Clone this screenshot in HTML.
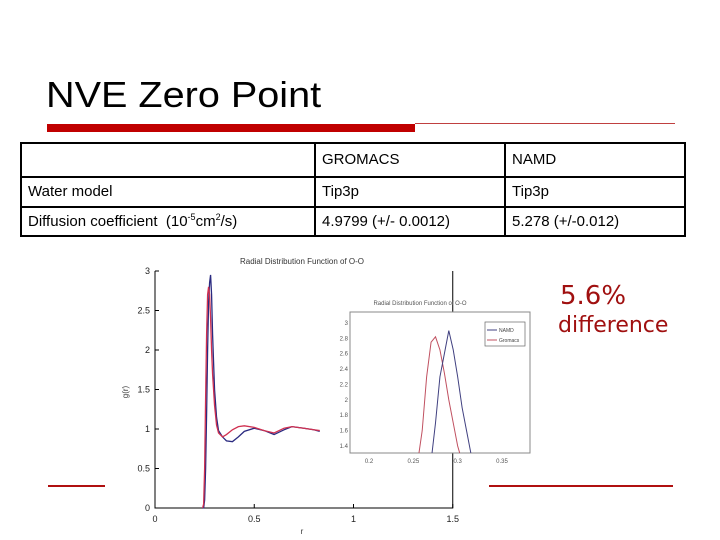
<!DOCTYPE html>
<html><head><meta charset="utf-8"><style>
body{margin:0;background:#fff;}
#slide{position:relative;width:720px;height:540px;overflow:hidden;background:#fff;font-family:"Liberation Sans",sans-serif;}
table{position:absolute;left:20px;top:142px;border-collapse:collapse;font-size:15px;}
td{border:2px solid #000;padding:0 0 0 6px;vertical-align:middle;line-height:16px;}
</style></head><body>
<div id="slide">
<div style="position:absolute;left:46px;top:74px;font-size:36px;transform:scaleX(1.1);transform-origin:left;">NVE Zero Point</div>
<div style="position:absolute;left:47px;top:124px;width:368px;height:8px;background:#c00000;"></div>
<div style="position:absolute;left:415px;top:123px;width:260px;height:1px;background:#c04040;"></div>
<table>
<tr style="height:34px"><td style="width:286px"></td><td style="width:182px">GROMACS</td><td style="width:172px">NAMD</td></tr>
<tr style="height:30px"><td>Water model</td><td>Tip3p</td><td>Tip3p</td></tr>
<tr style="height:29px"><td>Diffusion coefficient&nbsp; (10<sup style="font-size:9px;line-height:0">-5</sup>cm<sup style="font-size:9px;line-height:0">2</sup>/s)</td><td>4.9799 (+/- 0.0012)</td><td>5.278 (+/-0.012)</td></tr>
</table>
<div style="position:absolute;left:560px;top:281px;font-size:26px;color:#a01010;font-family:'DejaVu Sans',sans-serif;">5.6%</div>
<div style="position:absolute;left:558px;top:313px;font-size:22px;color:#a01010;font-family:'DejaVu Sans',sans-serif;">difference</div>
<div style="position:absolute;left:48px;top:485px;width:57px;height:1.5px;background:#b01010;"></div>
<div style="position:absolute;left:489px;top:485px;width:184px;height:1.5px;background:#b01010;"></div>
<svg id="chart" width="720" height="540" style="position:absolute;left:0;top:0" font-family="Liberation Sans, sans-serif"></svg>
</div>
<script>
const mainR=[0.24,0.245,0.25,0.255,0.26,0.265,0.27,0.275,0.28,0.285,0.29,0.3,0.31,0.32,0.34,0.36,0.39,0.42,0.45,0.5,0.55,0.6,0.65,0.69,0.75,0.8,0.83];
const mainRed=[0,0.05,0.5,1.4,2.2,2.7,2.8,2.7,2.4,2.0,1.7,1.3,1.05,0.95,0.9,0.93,0.99,1.03,1.04,1.02,0.98,0.95,1.01,1.03,1.01,0.99,0.98];
const mainBlue=[0,0,0.1,0.5,1.2,2.0,2.6,2.85,2.95,2.7,2.2,1.5,1.15,0.98,0.9,0.85,0.84,0.9,0.97,1.01,0.98,0.93,0.99,1.03,1.01,0.99,0.97];
const xTicks=[0,0.5,1,1.5];
const yTicks=[0,0.5,1,1.5,2,2.5,3];
const insetR=[0.255,0.26,0.265,0.27,0.275,0.28,0.285,0.29,0.295,0.3,0.305];
const insetRed=[1.2,1.6,2.3,2.75,2.82,2.65,2.35,2.0,1.7,1.4,1.2];
const insetRx=[0.27,0.275,0.28,0.285,0.29,0.295,0.3,0.305,0.31,0.315];
const insetBx=[1.2,1.7,2.3,2.6,2.9,2.65,2.3,1.9,1.6,1.3];
const insetXTicks=[0.2,0.25,0.3,0.35];
const insetYTicks=[1.4,1.6,1.8,2,2.2,2.4,2.6,2.8,3];
const NS='http://www.w3.org/2000/svg';
const svg=document.getElementById('chart');
function el(t,a,p){const e=document.createElementNS(NS,t);for(const k in a)e.setAttribute(k,a[k]);(p||svg).appendChild(e);return e;}
const mx=v=>155+v*198.5, my=v=>508-v*79;
let ax=el('path',{d:`M${mx(0)},${my(3)} V${my(0)} H${mx(1.5)} V${my(3)}`,fill:'none',stroke:'#000','stroke-width':1});

xTicks.forEach(t=>{
 const tk=el('line',{x1:mx(t),x2:mx(t),y1:my(0),y2:my(0)-4,stroke:'#000'});
 
 const tx=el('text',{x:mx(t),y:my(0)+14,'font-size':9,'text-anchor':'middle',fill:'#222'});tx.textContent=t;
 
});
yTicks.forEach(t=>{
 const tk=el('line',{x1:mx(0),x2:mx(0)+4,y1:my(t),y2:my(t),stroke:'#000'});
 
 const tx=el('text',{x:mx(0)-5,y:my(t)+3,'font-size':9,'text-anchor':'end',fill:'#222'});tx.textContent=t;
 
});
let t1=el('text',{x:302,y:264,'font-size':8,'text-anchor':'middle',fill:'#333'});t1.textContent='Radial Distribution Function of O-O';

let yl=el('text',{x:128,y:392,'font-size':8,'text-anchor':'middle',fill:'#333',transform:'rotate(-90 128 392)'});yl.textContent='g(r)';

let xl=el('text',{x:302,y:534,'font-size':8,'text-anchor':'middle',fill:'#333'});xl.textContent='r';

function line(xs,ys,fx,fy,col,name){const p=el('polyline',{points:xs.map((x,i)=>fx(x)+','+fy(ys[i])).join(' '),fill:'none',stroke:col,'stroke-width':1.3});
 }
line(mainR,mainBlue,mx,my,'#2a2a80','namd-line');
line(mainR,mainRed,mx,my,'#d03050','gromacs-line');
const ix=v=>369+(v-0.2)*886.7, iy=v=>446-(v-1.4)*76.9;
let ib=el('rect',{x:350,y:312,width:180,height:141,fill:'#fff',stroke:'#888'});

insetXTicks.forEach(t=>{const tx=el('text',{x:ix(t),y:463,'font-size':6,'text-anchor':'middle',fill:'#555'});tx.textContent=t;
 });
insetYTicks.forEach(t=>{const tx=el('text',{x:348,y:iy(t)+2,'font-size':6,'text-anchor':'end',fill:'#555'});tx.textContent=t;
 });
let t2=el('text',{x:420,y:305,'font-size':6,'text-anchor':'middle',fill:'#555'});t2.textContent='Radial Distribution Function of O-O';

const clip=el('clipPath',{id:'ic'});el('rect',{x:350,y:312,width:180,height:141},clip);
const g=el('g',{'clip-path':'url(#ic)'});
function iline(xs,ys,col,name){const p=el('polyline',{points:xs.map((x,i)=>ix(x)+','+iy(ys[i])).join(' '),fill:'none',stroke:col,'stroke-width':1},g);
 }
iline(insetR,insetRed,'#c05060','inset-gromacs-line');
iline(insetRx,insetBx,'#404080','inset-namd-line');
let lg=el('rect',{x:485,y:322,width:40,height:24,fill:'#fff',stroke:'#666','stroke-width':0.7});

el('line',{x1:487,x2:497,y1:330,y2:330,stroke:'#404080'});
el('line',{x1:487,x2:497,y1:340,y2:340,stroke:'#c05060'});
let l1=el('text',{x:499,y:332,'font-size':5,fill:'#444'});l1.textContent='NAMD';

let l2=el('text',{x:499,y:342,'font-size':5,fill:'#444'});l2.textContent='Gromacs';

</script>
</body></html>
